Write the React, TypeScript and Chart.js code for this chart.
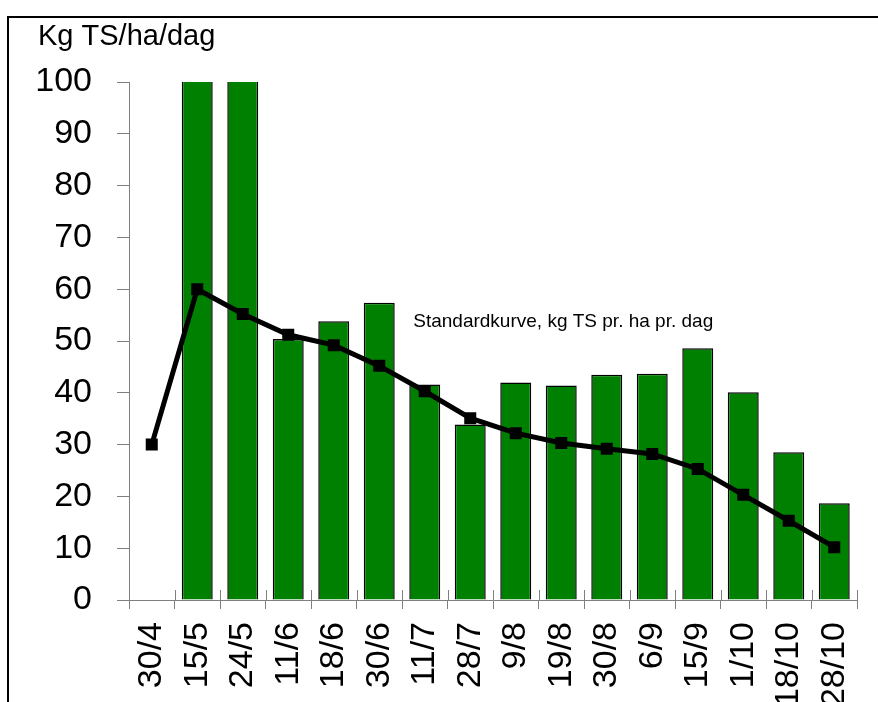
import React, { useEffect, useRef } from 'react';
import { Chart, registerables } from 'chart.js';

Chart.register(...registerables);

const categories = ['30/4', '15/5', '24/5', '11/6', '18/6', '30/6', '11/7', '28/7', '9/8', '19/8', '30/8', '6/9', '15/9', '1/10', '18/10', '28/10'];
const measured: (number | null)[] = [null, 112, 108, 50.4, 53.8, 57.4, 41.6, 33.9, 42.0, 41.4, 43.5, 43.7, 48.6, 40.1, 28.5, 18.7];
const standard = [30, 60, 55.2, 51.2, 49.2, 45.2, 40.3, 35.1, 32.2, 30.3, 29.2, 28.2, 25.3, 20.3, 15.3, 10.2];
const yMin = 0;
const yMax = 100;
const yStep = 10;
const yTitle = 'Kg TS/ha/dag';
const curveLabel = 'Standardkurve, kg TS pr. ha pr. dag';

const FAMILY = '"Liberation Sans", Arial, sans-serif';
const AXIS = '#7f7f7f';

const decor = {
  id: 'decor',
  afterDraw(chart: any) {
    const ctx = chart.ctx;
    const x = chart.scales.x;
    const y = chart.scales.y;
    ctx.save();
    ctx.strokeStyle = AXIS;
    ctx.lineWidth = 1;
    for (let i = 0; i <= categories.length; i++) {
      const px = Math.round(x.getPixelForValue(i - 0.5)) + 0.5;
      ctx.beginPath();
      ctx.moveTo(px, y.bottom - 10);
      ctx.lineTo(px, y.bottom);
      ctx.stroke();
    }
    ctx.fillStyle = '#000';
    ctx.textAlign = 'left';
    ctx.textBaseline = 'alphabetic';
    ctx.font = '29px ' + FAMILY;
    ctx.fillText(yTitle, 29, 27);
    ctx.font = '19px ' + FAMILY;
    ctx.fillText(curveLabel, x.getPixelForValue(5) + 34, y.getPixelForValue(52.7));
    ctx.restore();
  },
};

export default function App() {
  const ref = useRef<HTMLCanvasElement>(null);
  useEffect(() => {
    if (!ref.current) return;
    const chart = new Chart(ref.current, {
      type: 'bar',
      data: {
        labels: categories,
        datasets: [
          {
            type: 'bar',
            data: measured as any,
            backgroundColor: '#008000',
            borderColor: '#000',
            borderWidth: 1.5,
            categoryPercentage: 1,
            barPercentage: 0.68,
            order: 1,
          },
          {
            type: 'line',
            data: standard,
            borderColor: '#000',
            backgroundColor: '#000',
            borderWidth: 5,
            pointStyle: 'rect',
            pointRadius: 8.5,
            pointBackgroundColor: '#000',
            pointBorderColor: '#000',
            pointBorderWidth: 0,
            tension: 0,
            order: 0,
          } as any,
        ],
      },
      options: {
        responsive: false,
        animation: false,
        layout: { padding: { top: 64, right: 21, bottom: 0, left: 0 }, autoPadding: false },
        plugins: { legend: { display: false }, tooltip: { enabled: false }, title: { display: false } },
        scales: {
          x: {
            offset: true,
            grid: { display: true, drawOnChartArea: false, drawTicks: true, tickLength: 9, color: AXIS, offset: true },
            border: { display: true, color: AXIS, width: 1 },
            ticks: {
              autoSkip: false,
              minRotation: 90,
              maxRotation: 90,
              padding: 13,
              color: '#000',
              font: { size: 34, family: FAMILY },
            },
            afterFit: (s: any) => { s.height = 102; s.paddingLeft = 0; s.paddingRight = 0; },
          },
          y: {
            min: yMin,
            max: yMax,
            grid: { display: true, drawOnChartArea: false, drawTicks: true, tickLength: 12, color: AXIS },
            border: { display: true, color: AXIS, width: 1 },
            ticks: {
              stepSize: yStep,
              padding: 25,
              color: '#000',
              font: { size: 34, family: FAMILY },
            },
            afterFit: (s: any) => { s.width = 120; s.paddingTop = 0; s.paddingBottom = 0; },
          },
        },
      },
      plugins: [decor],
    });
    return () => chart.destroy();
  }, []);

  return (
    <div style={{ position: 'fixed', left: 0, top: 0, width: 878, height: 702, overflow: 'hidden', background: '#fff' }}>
      <div
        style={{
          position: 'absolute',
          left: 7,
          top: 16,
          width: 871,
          height: 686,
          borderLeft: '2px solid #000',
          borderTop: '2px solid #000',
          boxSizing: 'border-box',
        }}
      >
        <canvas ref={ref} width={869} height={684} style={{ display: 'block' }} />
      </div>
    </div>
  );
}
